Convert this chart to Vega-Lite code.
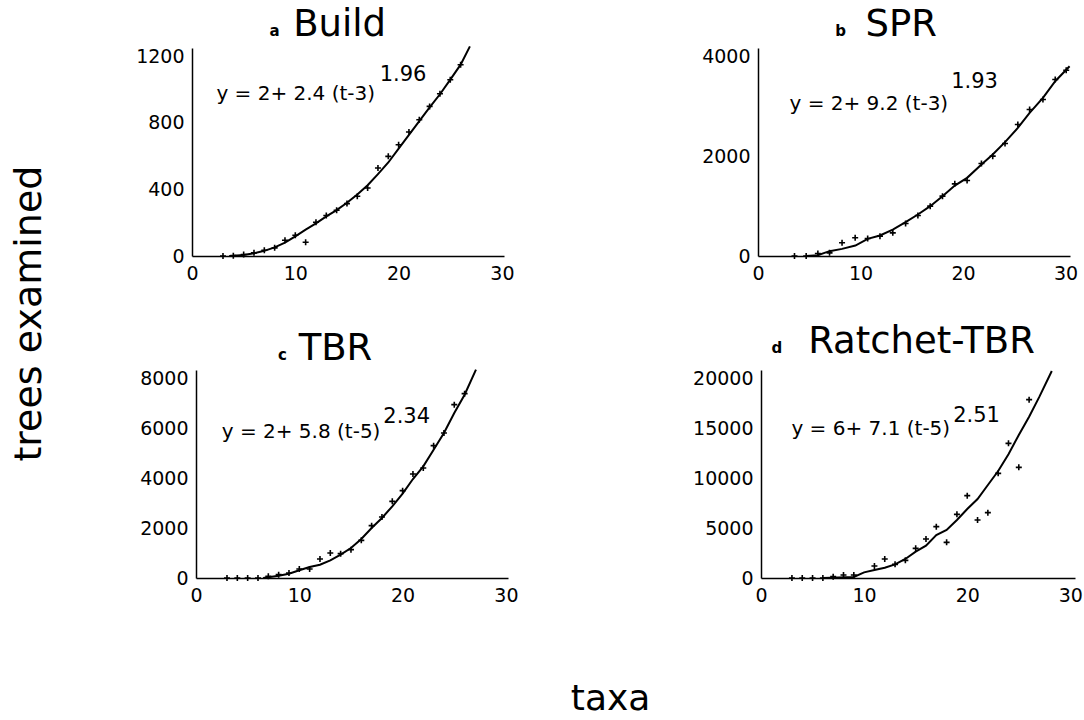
{
  "$schema": "https://vega.github.io/schema/vega-lite/v6.json",
  "background": "white",
  "padding": {"left": 10, "top": 6, "right": 5, "bottom": 5},
  "title": {"text": "taxa", "orient": "bottom", "frame": "bounds", "anchor": "middle", "dx": 64, "offset": 77, "fontSize": 36, "font": "DejaVu Sans", "fontWeight": "normal", "color": "black"},
  "vconcat": [
    {
      "title": {"text": "trees examined", "orient": "left", "anchor": "middle", "offset": 87, "dx": -8, "fontSize": 38, "font": "DejaVu Sans", "fontWeight": "normal", "color": "black"},
      "columns": 2,
      "spacing": {"row": 114, "column": 254},
      "bounds": "flush",
      "concat": [
        {
          "width": 312, "height": 208,
          "layer": [
            {"data": {"name": "curveA"}, "mark": {"type": "line", "color": "black", "strokeWidth": 2},
             "encoding": {
               "x": {"field": "taxa", "type": "quantitative", "scale": {"domain": [0, 30.2], "nice": false, "zero": false}, "axis": {"values": [0, 10, 20, 30], "title": null, "format": "d"}},
               "y": {"field": "trees", "type": "quantitative", "scale": {"domain": [0, 1250], "nice": false, "zero": false}, "axis": {"values": [0, 400, 800, 1200], "title": null, "format": "d"}}}},
            {"data": {"name": "ptsA"}, "mark": {"type": "point", "shape": "M-1,0L1,0M0,-1L0,1", "filled": false, "stroke": "black", "strokeWidth": 1.6, "size": 36, "opacity": 1},
             "encoding": {"x": {"field": "taxa", "type": "quantitative"}, "y": {"field": "trees", "type": "quantitative"}}},
            {"data": {"values": [{}]}, "mark": {"type": "text", "text": "y = 2+ 2.4 (t-3)", "fontSize": 20, "align": "left", "baseline": "alphabetic", "color": "black"},
             "encoding": {"x": {"datum": 2.36}, "y": {"datum": 940}}},
            {"data": {"values": [{}]}, "mark": {"type": "text", "text": "1.96", "fontSize": 21, "align": "left", "baseline": "alphabetic", "color": "black"},
             "encoding": {"x": {"datum": 18.17}, "y": {"datum": 1050}}},
            {"data": {"values": [{}]}, "mark": {"type": "text", "text": "a", "fontSize": 15, "fontWeight": "bold", "align": "center", "baseline": "alphabetic", "color": "black"},
             "encoding": {"x": {"datum": 8.0}, "y": {"datum": 1321}}},
            {"data": {"values": [{}]}, "mark": {"type": "text", "text": "Build", "fontSize": 37, "align": "center", "baseline": "alphabetic", "color": "black"},
             "encoding": {"x": {"datum": 14.29}, "y": {"datum": 1321}}}
          ]
        },
        {
          "width": 312, "height": 208,
          "layer": [
            {"data": {"name": "curveB"}, "mark": {"type": "line", "color": "black", "strokeWidth": 2},
             "encoding": {
               "x": {"field": "taxa", "type": "quantitative", "scale": {"domain": [0, 30.44], "nice": false, "zero": false}, "axis": {"values": [0, 10, 20, 30], "title": null, "format": "d"}},
               "y": {"field": "trees", "type": "quantitative", "scale": {"domain": [0, 4165], "nice": false, "zero": false}, "axis": {"values": [0, 2000, 4000], "title": null, "format": "d"}}}},
            {"data": {"name": "ptsB"}, "mark": {"type": "point", "shape": "M-1,0L1,0M0,-1L0,1", "filled": false, "stroke": "black", "strokeWidth": 1.6, "size": 36, "opacity": 1},
             "encoding": {"x": {"field": "taxa", "type": "quantitative"}, "y": {"field": "trees", "type": "quantitative"}}},
            {"data": {"values": [{}]}, "mark": {"type": "text", "text": "y = 2+ 9.2 (t-3)", "fontSize": 20, "align": "left", "baseline": "alphabetic", "color": "black"},
             "encoding": {"x": {"datum": 3.07}, "y": {"datum": 2933}}},
            {"data": {"values": [{}]}, "mark": {"type": "text", "text": "1.93", "fontSize": 21, "align": "left", "baseline": "alphabetic", "color": "black"},
             "encoding": {"x": {"datum": 18.85}, "y": {"datum": 3367}}},
            {"data": {"values": [{}]}, "mark": {"type": "text", "text": "b", "fontSize": 15, "fontWeight": "bold", "align": "center", "baseline": "alphabetic", "color": "black"},
             "encoding": {"x": {"datum": 8.05}, "y": {"datum": 4400}}},
            {"data": {"values": [{}]}, "mark": {"type": "text", "text": "SPR", "fontSize": 37, "align": "center", "baseline": "alphabetic", "color": "black"},
             "encoding": {"x": {"datum": 13.97}, "y": {"datum": 4400}}}
          ]
        },
        {
          "width": 312, "height": 208,
          "layer": [
            {"data": {"name": "curveC"}, "mark": {"type": "line", "color": "black", "strokeWidth": 2},
             "encoding": {
               "x": {"field": "taxa", "type": "quantitative", "scale": {"domain": [0, 30.2], "range": [4, 316], "nice": false, "zero": false}, "axis": {"values": [0, 10, 20, 30], "title": null, "format": "d"}},
               "y": {"field": "trees", "type": "quantitative", "scale": {"domain": [0, 8320], "nice": false, "zero": false}, "axis": {"values": [0, 2000, 4000, 6000, 8000], "title": null, "offset": -4, "format": "d"}}}},
            {"data": {"name": "ptsC"}, "mark": {"type": "point", "shape": "M-1,0L1,0M0,-1L0,1", "filled": false, "stroke": "black", "strokeWidth": 1.6, "size": 36, "opacity": 1},
             "encoding": {"x": {"field": "taxa", "type": "quantitative"}, "y": {"field": "trees", "type": "quantitative"}}},
            {"data": {"values": [{}]}, "mark": {"type": "text", "text": "y = 2+ 5.8 (t-5)", "fontSize": 20, "align": "left", "baseline": "alphabetic", "color": "black"},
             "encoding": {"x": {"datum": 2.49}, "y": {"datum": 5600}}},
            {"data": {"values": [{}]}, "mark": {"type": "text", "text": "2.34", "fontSize": 21, "align": "left", "baseline": "alphabetic", "color": "black"},
             "encoding": {"x": {"datum": 18.13}, "y": {"datum": 6200}}},
            {"data": {"values": [{}]}, "mark": {"type": "text", "text": "c", "fontSize": 15, "fontWeight": "bold", "align": "center", "baseline": "alphabetic", "color": "black"},
             "encoding": {"x": {"datum": 8.37}, "y": {"datum": 8732}}},
            {"data": {"values": [{}]}, "mark": {"type": "text", "text": "TBR", "fontSize": 37, "align": "center", "baseline": "alphabetic", "color": "black"},
             "encoding": {"x": {"datum": 13.5}, "y": {"datum": 8732}}}
          ]
        },
        {
          "width": 312, "height": 208,
          "layer": [
            {"data": {"name": "curveD"}, "mark": {"type": "line", "color": "black", "strokeWidth": 2},
             "encoding": {
               "x": {"field": "taxa", "type": "quantitative", "scale": {"domain": [0, 30.45], "range": [3, 317], "nice": false, "zero": false}, "axis": {"values": [0, 10, 20, 30], "title": null, "format": "d"}},
               "y": {"field": "trees", "type": "quantitative", "scale": {"domain": [0, 20800], "nice": false, "zero": false}, "axis": {"values": [0, 5000, 10000, 15000, 20000], "title": null, "offset": -3, "format": "d"}}}},
            {"data": {"name": "ptsD"}, "mark": {"type": "point", "shape": "M-1,0L1,0M0,-1L0,1", "filled": false, "stroke": "black", "strokeWidth": 1.6, "size": 36, "opacity": 1},
             "encoding": {"x": {"field": "taxa", "type": "quantitative"}, "y": {"field": "trees", "type": "quantitative"}}},
            {"data": {"values": [{}]}, "mark": {"type": "text", "text": "y = 6+ 7.1 (t-5)", "fontSize": 20, "align": "left", "baseline": "alphabetic", "color": "black"},
             "encoding": {"x": {"datum": 2.95}, "y": {"datum": 14300}}},
            {"data": {"values": [{}]}, "mark": {"type": "text", "text": "2.51", "fontSize": 21, "align": "left", "baseline": "alphabetic", "color": "black"},
             "encoding": {"x": {"datum": 18.64}, "y": {"datum": 15630}}},
            {"data": {"values": [{}]}, "mark": {"type": "text", "text": "d", "fontSize": 15, "fontWeight": "bold", "align": "center", "baseline": "alphabetic", "color": "black"},
             "encoding": {"x": {"datum": 1.55}, "y": {"datum": 22470}}},
            {"data": {"values": [{}]}, "mark": {"type": "text", "text": "Ratchet-TBR", "fontSize": 37, "align": "center", "baseline": "alphabetic", "color": "black"},
             "encoding": {"x": {"datum": 15.57}, "y": {"datum": 22470}}}
          ]
        }
      ]
    }
  ],
  "datasets": {
    "ptsA": [
      {"taxa": 3, "trees": 0}, {"taxa": 4, "trees": 2}, {"taxa": 5, "trees": 9}, {"taxa": 6, "trees": 19},
      {"taxa": 7, "trees": 35}, {"taxa": 8, "trees": 49}, {"taxa": 9, "trees": 95}, {"taxa": 10, "trees": 125},
      {"taxa": 11, "trees": 83}, {"taxa": 12, "trees": 203}, {"taxa": 13, "trees": 243}, {"taxa": 14, "trees": 275},
      {"taxa": 15, "trees": 315}, {"taxa": 16, "trees": 359}, {"taxa": 17, "trees": 409}, {"taxa": 18, "trees": 529},
      {"taxa": 19, "trees": 599}, {"taxa": 20, "trees": 669}, {"taxa": 21, "trees": 745}, {"taxa": 22, "trees": 819},
      {"taxa": 23, "trees": 899}, {"taxa": 24, "trees": 975}, {"taxa": 25, "trees": 1059}, {"taxa": 26, "trees": 1149}
    ],
    "curveA": [
      {"taxa": 3.6, "trees": 0}, {"taxa": 4, "trees": 1}, {"taxa": 5, "trees": 6}, {"taxa": 6, "trees": 16},
      {"taxa": 7, "trees": 31}, {"taxa": 8, "trees": 52}, {"taxa": 9, "trees": 80}, {"taxa": 10, "trees": 118},
      {"taxa": 11, "trees": 158}, {"taxa": 12, "trees": 196}, {"taxa": 13, "trees": 238}, {"taxa": 14, "trees": 276},
      {"taxa": 15, "trees": 320}, {"taxa": 16, "trees": 370}, {"taxa": 17, "trees": 425}, {"taxa": 18, "trees": 492},
      {"taxa": 19, "trees": 562}, {"taxa": 20, "trees": 645}, {"taxa": 21, "trees": 728}, {"taxa": 22, "trees": 810},
      {"taxa": 23, "trees": 893}, {"taxa": 24, "trees": 972}, {"taxa": 25, "trees": 1060}, {"taxa": 26, "trees": 1150},
      {"taxa": 26.9, "trees": 1260}
    ],
    "ptsB": [
      {"taxa": 3.56, "trees": 0}, {"taxa": 4.7, "trees": 0}, {"taxa": 5.84, "trees": 50}, {"taxa": 6.98, "trees": 63},
      {"taxa": 8.2, "trees": 264}, {"taxa": 9.48, "trees": 364}, {"taxa": 10.7, "trees": 350}, {"taxa": 11.9, "trees": 397},
      {"taxa": 13.15, "trees": 464}, {"taxa": 14.4, "trees": 651}, {"taxa": 15.6, "trees": 811}, {"taxa": 16.8, "trees": 998},
      {"taxa": 18.0, "trees": 1198}, {"taxa": 19.2, "trees": 1445}, {"taxa": 20.4, "trees": 1511}, {"taxa": 21.8, "trees": 1852},
      {"taxa": 22.9, "trees": 1999}, {"taxa": 24.1, "trees": 2252}, {"taxa": 25.35, "trees": 2633}, {"taxa": 26.5, "trees": 2933},
      {"taxa": 27.8, "trees": 3133}, {"taxa": 29.0, "trees": 3533}, {"taxa": 30.07, "trees": 3720}
    ],
    "curveB": [
      {"taxa": 4.7, "trees": 0}, {"taxa": 5.84, "trees": 17}, {"taxa": 6.98, "trees": 97}, {"taxa": 8.2, "trees": 143},
      {"taxa": 9.5, "trees": 210}, {"taxa": 10.7, "trees": 344}, {"taxa": 11.9, "trees": 410}, {"taxa": 13.15, "trees": 530},
      {"taxa": 14.4, "trees": 677}, {"taxa": 15.6, "trees": 831}, {"taxa": 16.8, "trees": 998}, {"taxa": 18.0, "trees": 1198},
      {"taxa": 19.2, "trees": 1411}, {"taxa": 20.4, "trees": 1565}, {"taxa": 21.8, "trees": 1832}, {"taxa": 22.9, "trees": 2032},
      {"taxa": 24.1, "trees": 2279}, {"taxa": 25.35, "trees": 2566}, {"taxa": 26.5, "trees": 2866}, {"taxa": 27.8, "trees": 3166},
      {"taxa": 29.0, "trees": 3500}, {"taxa": 30.4, "trees": 3800}
    ],
    "ptsC": [
      {"taxa": 3, "trees": 0}, {"taxa": 4, "trees": 0}, {"taxa": 5, "trees": 0}, {"taxa": 6, "trees": 0},
      {"taxa": 7, "trees": 67}, {"taxa": 8, "trees": 133}, {"taxa": 9, "trees": 200}, {"taxa": 10, "trees": 360},
      {"taxa": 11, "trees": 360}, {"taxa": 12, "trees": 760}, {"taxa": 13, "trees": 1000}, {"taxa": 14, "trees": 973},
      {"taxa": 15, "trees": 1133}, {"taxa": 16, "trees": 1507}, {"taxa": 17, "trees": 2093}, {"taxa": 18, "trees": 2440},
      {"taxa": 19, "trees": 3067}, {"taxa": 20, "trees": 3493}, {"taxa": 21, "trees": 4160}, {"taxa": 22, "trees": 4400},
      {"taxa": 23, "trees": 5293}, {"taxa": 24, "trees": 5800}, {"taxa": 25, "trees": 6933}, {"taxa": 26, "trees": 7373}
    ],
    "curveC": [
      {"taxa": 6.5, "trees": 0}, {"taxa": 7, "trees": 27}, {"taxa": 8, "trees": 93}, {"taxa": 9, "trees": 173},
      {"taxa": 10, "trees": 307}, {"taxa": 11, "trees": 440}, {"taxa": 12, "trees": 533}, {"taxa": 13, "trees": 707},
      {"taxa": 14, "trees": 933}, {"taxa": 15, "trees": 1200}, {"taxa": 16, "trees": 1560}, {"taxa": 17, "trees": 2000},
      {"taxa": 18, "trees": 2400}, {"taxa": 19, "trees": 2867}, {"taxa": 20, "trees": 3373}, {"taxa": 21, "trees": 3960},
      {"taxa": 22, "trees": 4467}, {"taxa": 23, "trees": 5133}, {"taxa": 24, "trees": 5800}, {"taxa": 25, "trees": 6600},
      {"taxa": 26, "trees": 7333}, {"taxa": 27.1, "trees": 8333}
    ],
    "ptsD": [
      {"taxa": 3, "trees": 0}, {"taxa": 4, "trees": 0}, {"taxa": 5, "trees": 0}, {"taxa": 6, "trees": 0},
      {"taxa": 7, "trees": 133}, {"taxa": 8, "trees": 300}, {"taxa": 9, "trees": 300}, {"taxa": 11, "trees": 1200},
      {"taxa": 12, "trees": 1900}, {"taxa": 13, "trees": 1367}, {"taxa": 14, "trees": 1767}, {"taxa": 15, "trees": 2967},
      {"taxa": 16, "trees": 3900}, {"taxa": 17, "trees": 5133}, {"taxa": 18, "trees": 3567}, {"taxa": 19, "trees": 6367},
      {"taxa": 20, "trees": 8233}, {"taxa": 21, "trees": 5800}, {"taxa": 22, "trees": 6533}, {"taxa": 23, "trees": 10467},
      {"taxa": 24, "trees": 13467}, {"taxa": 25, "trees": 11067}, {"taxa": 26, "trees": 17833}
    ],
    "curveD": [
      {"taxa": 6, "trees": 0}, {"taxa": 9, "trees": 100}, {"taxa": 10, "trees": 567}, {"taxa": 11, "trees": 800},
      {"taxa": 12, "trees": 1033}, {"taxa": 13, "trees": 1367}, {"taxa": 14, "trees": 1900}, {"taxa": 15, "trees": 2633},
      {"taxa": 16, "trees": 3233}, {"taxa": 17, "trees": 4300}, {"taxa": 18, "trees": 4800}, {"taxa": 19, "trees": 5800},
      {"taxa": 20, "trees": 6900}, {"taxa": 21, "trees": 7900}, {"taxa": 22, "trees": 9300}, {"taxa": 23, "trees": 10700},
      {"taxa": 24, "trees": 12367}, {"taxa": 25, "trees": 14300}, {"taxa": 26, "trees": 16133}, {"taxa": 27, "trees": 18133},
      {"taxa": 28.2, "trees": 20700}
    ]
  },
  "config": {
    "view": {"stroke": null},
    "font": "DejaVu Sans",
    "text": {"font": "DejaVu Sans"},
    "axis": {"grid": false, "ticks": false, "tickSize": 0, "domainColor": "black", "domainWidth": 1.5, "labelFont": "DejaVu Sans", "labelFontSize": 19, "labelColor": "black", "labelPadding": 8, "labelFlush": false, "labelOverlap": false}
  }
}
